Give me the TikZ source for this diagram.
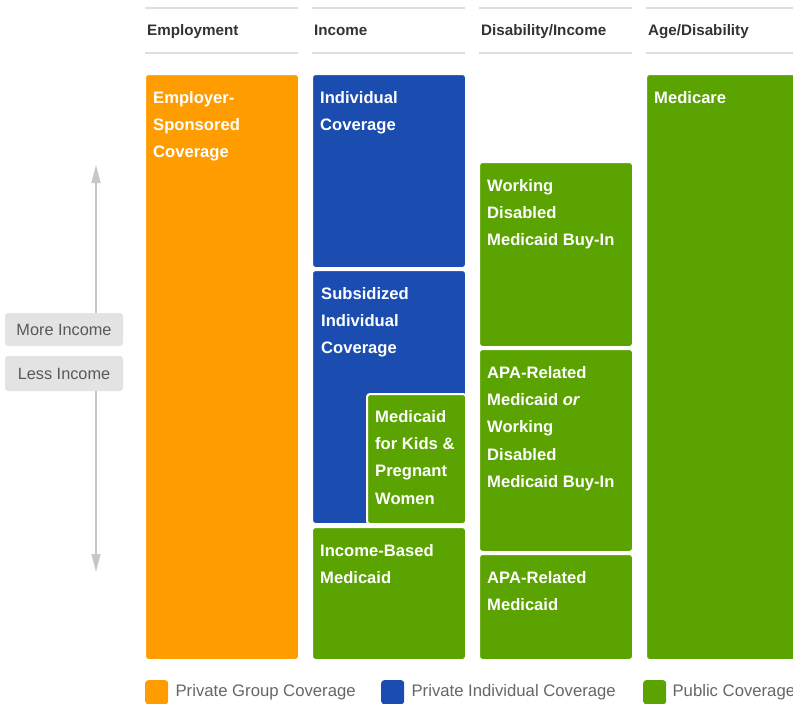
\documentclass[tikz,border=0pt]{standalone}
\usepackage{fontspec}
\setmainfont{Liberation Sans}
\usetikzlibrary{positioning,arrows.meta}
\definecolor{privgrp}{HTML}{FF9C00}
\definecolor{privind}{HTML}{1A4DAF}
\definecolor{public}{HTML}{5AA300}
\begin{document}
\begin{tikzpicture}[x=1pt,y=-1pt,
  blk/.style={draw=white,line width=1pt,rounded corners=3pt,minimum width=153pt,inner sep=0pt,anchor=north west},
  txt/.style={text=white,font=\fontsize{16.6}{27.3}\selectfont\bfseries,align=left,inner sep=0pt,anchor=north west},
  hdr/.style={text=black!80,font=\fontsize{15.2}{18}\selectfont\bfseries,inner sep=0pt,anchor=base west},
  rule/.style={draw=black!13,line width=2pt},
  ibox/.style={fill=black!11,rounded corners=3pt,text=black!65,font=\fontsize{16.3}{20}\selectfont,minimum width=118pt,inner sep=0pt},
  ax/.style={draw=black!22,line width=1.5pt,-{Triangle[width=9pt,length=18pt]}},
  key/.style={rounded corners=3pt,minimum width=23pt,minimum height=24pt,inner sep=0pt,anchor=north west},
  keytxt/.style={text=black!60,font=\fontsize{16.7}{20}\selectfont,inner sep=0pt,anchor=west}]
  \clip (0,0) rectangle (793,704);
%
  \foreach \x in {145,312,479,646} {\draw [rule] (\x,8) -- ++(153,0); \draw [rule] (\x,53) -- ++(153,0);}
  \node (hemp) at (147,35.5) [hdr] {Employment};
  \node (hinc) at (314,35.5) [hdr] {Income};
  \node (hdis) at (481,35.5) [hdr] {Disability/Income};
  \node (hage) at (648,35.5) [hdr] {Age/Disability};
%
  \node (ESC) at (145,74) [blk, fill=privgrp, minimum height=585pt] {};
  \node (ESCt) [txt, below right=17pt and 8pt of ESC.north west] {Employer-\\Sponsored\\Coverage};
%
  \node (IC) at (312,74) [blk, fill=privind, minimum height=193pt] {};
  \node (ICt) [txt, below right=17pt and 8pt of IC.north west] {Individual\\Coverage};
  \node (SIC) at (312,270) [blk, fill=privind, minimum height=253pt] {};
  \node (SICt) [txt, below right=17pt and 9pt of SIC.north west] {Subsidized\\Individual\\Coverage};
  \node (MKP) at (366,393) [blk, fill=public, line width=2pt, minimum width=99pt, minimum height=130pt] {};
  \node (MKPt) [txt, below right=17pt and 9pt of MKP.north west] {Medicaid\\for Kids \&\\Pregnant\\Women};
  \node (IBM) at (312,527) [blk, fill=public, minimum height=132pt] {};
  \node (IBMt) [txt, below right=17pt and 8pt of IBM.north west] {Income-Based\\Medicaid};
%
  \node (WDB) at (479,162) [blk, fill=public, minimum height=184pt] {};
  \node (WDBt) [txt, below right=17pt and 8pt of WDB.north west] {Working\\Disabled\\Medicaid Buy-In};
  \node (APAW) at (479,349) [blk, fill=public, minimum height=202pt] {};
  \node (APAWt) [txt, below right=17pt and 8pt of APAW.north west] {APA-Related\\Medicaid \textit{or}\\Working\\Disabled\\Medicaid Buy-In};
  \node (APA) at (479,554) [blk, fill=public, minimum height=105pt] {};
  \node (APAt) [txt, below right=17pt and 8pt of APA.north west] {APA-Related\\Medicaid};
%
  \node (MC) at (646,74) [blk, fill=public, minimum height=585pt] {};
  \node (MCt) [txt, below right=17pt and 8pt of MC.north west] {Medicare};
%
  \coordinate (up) at (96,165);
  \coordinate (dn) at (96,572);
  \node (more) at (64,329.5) [ibox, minimum height=33pt] {More Income};
  \node (less) at (64,373.5) [ibox, minimum height=35pt] {Less Income};
  \draw [ax] (more.north -| up) -- (up);
  \draw [ax] (less.south -| dn) -- (dn);
%
  \node (kgrp) at (145,680) [key, fill=privgrp] {};
  \node (kgrpt) [keytxt, right=7pt of kgrp.east] {Private Group Coverage};
  \node (kind) at (381,680) [key, fill=privind] {};
  \node (kindt) [keytxt, right=7pt of kind.east] {Private Individual Coverage};
  \node (kpub) at (643,680) [key, fill=public] {};
  \node (kpubt) [keytxt, right=6pt of kpub.east] {Public Coverage};
\end{tikzpicture}
\end{document}
